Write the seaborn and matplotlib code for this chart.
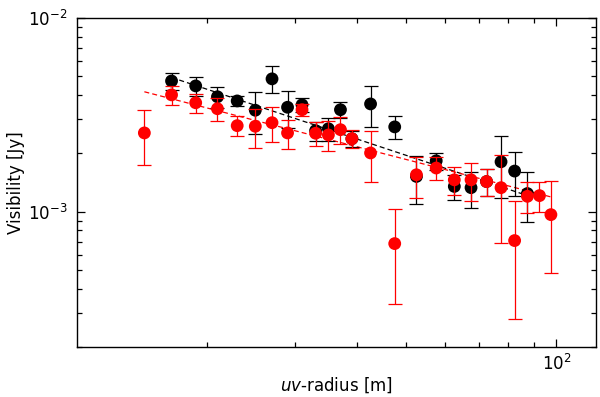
import numpy as np
import pandas as pd
import matplotlib
matplotlib.use("Agg")
import matplotlib.pyplot as plt
import matplotlib.ticker as mticker
import seaborn as sns

# values in Jy (y in units of 1e-3 Jy)
black_uv = [17, 19, 21, 23, 25, 27, 29, 31, 33, 35, 37, 39, 42.5, 47.5,
            52.5, 57.5, 62.5, 67.5, 72.5, 77.5, 82.5, 87.5]
black_vis = [4.73, 4.46, 3.92, 3.73, 3.34, 4.85, 3.46, 3.56, 2.62, 2.68, 3.36,
             2.38, 3.60, 2.74, 1.52, 1.83, 1.35, 1.33, 1.43, 1.81, 1.62, 1.24]
black_err = [0.48, 0.50, 0.48, 0.23, 0.82, 0.77, 0.75, 0.30, 0.30, 0.35, 0.33,
             0.22, 0.85, 0.38, 0.42, 0.18, 0.20, 0.28, 0.23, 0.64, 0.42, 0.36]

red_uv = [15, 17, 19, 21, 23, 25, 27, 29, 31, 33, 35, 37, 39, 42.5, 47.5,
          52.5, 57.5, 62.5, 67.5, 72.5, 77.5, 82.5, 87.5, 92.5, 97.5]
red_vis = [2.55, 4.01, 3.65, 3.40, 2.78, 2.76, 2.88, 2.55, 3.36, 2.54, 2.49,
           2.65, 2.38, 2.01, 0.684, 1.55, 1.68, 1.46, 1.46, 1.43, 1.33, 0.709,
           1.20, 1.21, 0.965]
red_err = [0.80, 0.45, 0.40, 0.45, 0.33, 0.64, 0.60, 0.44, 0.25, 0.36, 0.44,
           0.42, 0.25, 0.59, 0.35, 0.37, 0.23, 0.24, 0.33, 0.23, 0.64, 0.43,
           0.22, 0.22, 0.48]

# power-law fits: V = amp * (uv / uv0) ** index, drawn over [uv0, uv1]
black_fit = dict(amp=4.93, uv0=17, uv1=87.5, index=-0.857)
red_fit = dict(amp=4.16, uv0=15, uv1=97.5, index=-0.668)

sns.set_style("ticks")
plt.rcParams['font.family'] = ['DejaVu Sans']
plt.rcParams['font.size'] = 12
plt.rcParams['mathtext.fontset'] = 'dejavusans'
plt.rcParams['text.color'] = 'black'
plt.rcParams['axes.labelcolor'] = 'black'


def fit_frame(fit):
    uv = np.geomspace(fit['uv0'], fit['uv1'], 50)
    vis = fit['amp'] * (uv / fit['uv0']) ** fit['index'] * 1e-3
    return pd.DataFrame({'uv': uv, 'vis': vis})


def draw_set(ax, uv, vis, err, color, z):
    df = pd.DataFrame({'uv': uv, 'vis': np.array(vis) * 1e-3,
                       'err': np.array(err) * 1e-3})
    ax.errorbar(df['uv'], df['vis'], yerr=df['err'], fmt='none', ecolor=color,
                elinewidth=0.9, capsize=5, capthick=0.9, zorder=z)
    sns.scatterplot(data=df, x='uv', y='vis', ax=ax, color=color, s=85,
                    edgecolor='none', zorder=z + 1)


fig = plt.figure(figsize=(6.0, 3.97), dpi=100)
ax = fig.add_axes([77 / 600, 50 / 397, 519 / 600, 329 / 397])
ax.set_xscale('log')
ax.set_yscale('log')

for fit, color in [(black_fit, 'black'), (red_fit, 'red')]:
    line = sns.lineplot(data=fit_frame(fit), x='uv', y='vis', ax=ax,
                        color=color, linewidth=0.9, zorder=2)
    line.lines[-1].set_dashes([4, 2.5])

draw_set(ax, black_uv, black_vis, black_err, 'black', 3)
draw_set(ax, red_uv, red_vis, red_err, 'red', 5)

ax.set_xlim(11.0, 120)
ax.set_ylim(2e-4, 1e-2)
ax.xaxis.set_minor_formatter(mticker.NullFormatter())
ax.yaxis.set_minor_formatter(mticker.NullFormatter())
ax.tick_params(which='both', direction='in', top=True, right=True,
               width=0.9, colors='black', labelcolor='black', labelsize=12)
ax.tick_params(axis='y', pad=7)
ax.tick_params(axis='x', pad=5)
ax.tick_params(which='major', length=6)
ax.tick_params(which='minor', length=3.5)
for s in ax.spines.values():
    s.set_linewidth(1.0)
    s.set_color('black')

ax.set_xlabel(r'$\it{uv}$-radius [m]', fontsize=12, labelpad=1)
ax.set_ylabel('Visibility [Jy]', fontsize=12, labelpad=2)

plt.savefig('out.png', dpi=100)
